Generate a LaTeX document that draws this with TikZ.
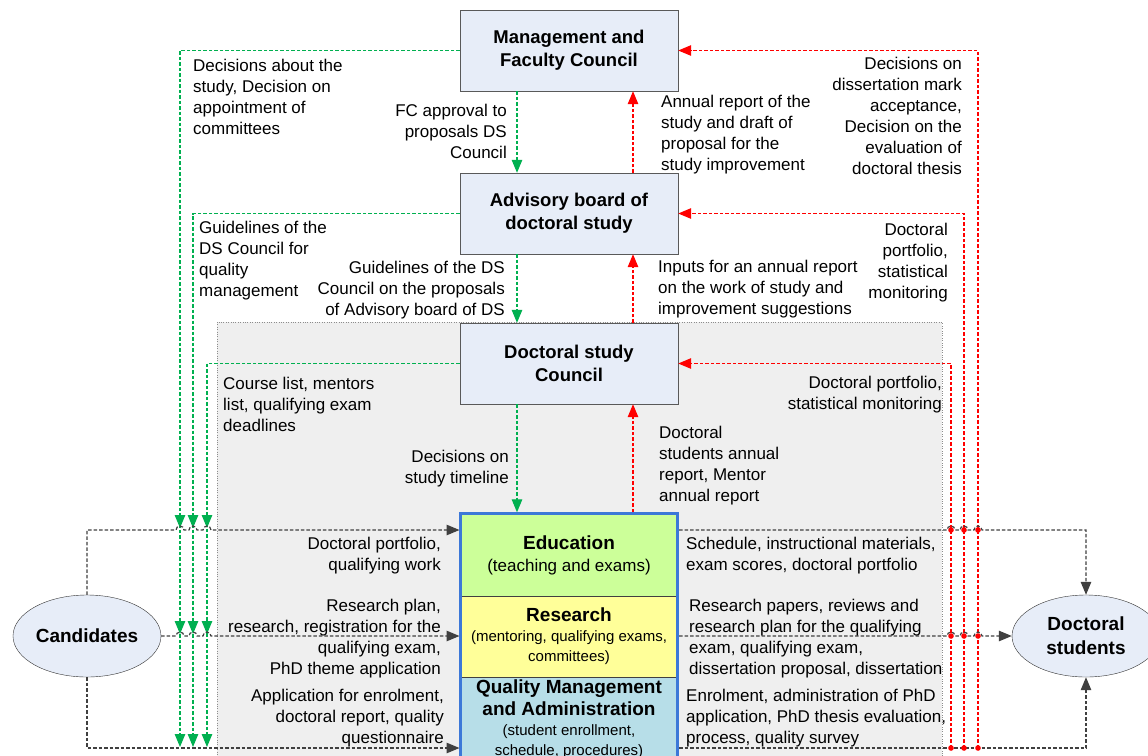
\documentclass[tikz,border=0pt]{standalone}
\usepackage{fontspec}
\setmainfont{Liberation Sans}
\usetikzlibrary{arrows.meta,shapes.geometric,calc}
\definecolor{boxfill}{HTML}{E7EDF8}
\definecolor{gGreen}{HTML}{00B050}
\definecolor{rRed}{HTML}{FF0000}
\definecolor{kGray}{HTML}{404040}
\definecolor{regfill}{HTML}{EFEFEF}
\definecolor{eduFill}{HTML}{CCFF99}
\definecolor{resFill}{HTML}{FFFF99}
\definecolor{qmaFill}{HTML}{B7DEE8}
\definecolor{stackBlue}{HTML}{3C78D8}
\begin{document}
\begin{tikzpicture}[x=1pt,y=-1pt,
  tip/.style={-{Triangle[length=13pt,width=10.5pt]}},
  gline/.style={draw=gGreen, line width=1.2pt, dash pattern=on 3.5pt off 2pt},
  rline/.style={draw=rRed, line width=1.2pt, dash pattern=on 3.5pt off 2pt},
  kline/.style={draw=kGray, line width=1.2pt, dash pattern=on 3.5pt off 2pt},
  topbox/.style={draw=black!65, fill=boxfill, minimum width=218pt, minimum height=81pt, inner sep=0pt, align=center, font=\bfseries\fontsize{18.5}{23}\selectfont},
  stackpart/.style={draw=black!75, minimum width=217pt, inner sep=0pt, align=center},
  oval/.style={ellipse, draw=black!80, fill=boxfill, minimum width=148pt, minimum height=82pt, inner sep=0pt, align=center, font=\bfseries\fontsize{19}{24}\selectfont},
  lbl/.style={inner sep=0pt, font=\fontsize{17}{21}\selectfont},
  lblL/.style={lbl, align=left, anchor=north west},
  lblR/.style={lbl, align=right, anchor=north east},
  rdot/.style={fill=rRed}
]
\path[use as bounding box] (0,0) rectangle (1148,755);

% grey region
\draw[draw=black!45, dotted, fill=regfill] (217,322) rectangle (942,780);

% top boxes
\node[topbox] (mfc) at (569,50.5) {Management and\\Faculty Council};
\node[topbox] (adv) at (569,213.5) {Advisory board of\\doctoral study};
\node[topbox] (dsc) at (569,363.5) {Doctoral study\\Council};

% central stack
\node[stackpart, fill=eduFill, minimum height=82pt, font=\fontsize{17}{22}\selectfont] (edu) at (569,555)
  {\bfseries\fontsize{19}{22}\selectfont Education\\(teaching and exams)};
\node[stackpart, fill=resFill, minimum height=81pt, font=\fontsize{15}{20}\selectfont] (res) at (569,636.5)
  {\bfseries\fontsize{19}{22}\selectfont Research\\(mentoring, qualifying exams,\\committees)};
\node[stackpart, fill=qmaFill, minimum height=84pt, font=\fontsize{15}{20}\selectfont] (qma) at (569,719)
  {\bfseries\fontsize{19}{22}\selectfont Quality Management\\[2pt]\bfseries\fontsize{19}{22}\selectfont and Administration\\(student enrollment,\\schedule, procedures)};
\draw[stackBlue, line width=3pt] (edu.north west) rectangle (qma.south east);

% ellipses
\node[oval] (cand) at (87,636) {Candidates};
\node[oval] (dst) at (1086,636) {Doctoral\\students};

% named points
\coordinate (eduL) at (459.5,530);
\coordinate (resL) at (459.5,636);
\coordinate (qmaL) at (459.5,748);
\coordinate (eduR) at (679,530);
\coordinate (resR) at (679,636);
\coordinate (qmaR) at (679,748);

\coordinate (g1a) at (180,528); \coordinate (g1b) at (180,634); \coordinate (g1c) at (180,747);
\coordinate (g2a) at (193,528); \coordinate (g2b) at (193,634); \coordinate (g2c) at (193,747);
\coordinate (g3a) at (207,528); \coordinate (g3b) at (207,634); \coordinate (g3c) at (207,747);

\coordinate (r1a) at (978,530); \coordinate (r1b) at (978,636); \coordinate (r1c) at (978,748);
\coordinate (r2a) at (964,530); \coordinate (r2b) at (964,636); \coordinate (r2c) at (964,748);
\coordinate (r3a) at (951,530); \coordinate (r3b) at (951,636); \coordinate (r3c) at (951,748);

% green connectors (left)
\draw[gline, tip] (mfc.west) -| (g1c);
\draw[gline, tip] (adv.west) -| (g2c);
\draw[gline, tip] (dsc.west) -| (g3c);
\foreach \p in {g1a,g1b,g2a,g2b,g3a,g3b}{
  \draw[gline, tip] ($(\p)+(0,-15)$) -- (\p);
}

% red connectors (right)
\draw[rline, tip] (r1c) |- (mfc.east);
\draw[rline, tip] (r2c) |- (adv.east);
\draw[rline, tip] (r3c) |- (dsc.east);

% central vertical connectors
\draw[gline, tip] ([xshift=-52pt]mfc.south) -- ([xshift=-52pt]adv.north);
\draw[gline, tip] ([xshift=-52pt]adv.south) -- ([xshift=-52pt]dsc.north);
\draw[gline, tip] ([xshift=-52pt]dsc.south) -- ([xshift=-52pt,yshift=1.5pt]edu.north);
\draw[rline, tip] ([xshift=64pt]adv.north) -- ([xshift=64pt]mfc.south);
\draw[rline, tip] ([xshift=64pt]dsc.north) -- ([xshift=64pt]adv.south);
\draw[rline, tip] ([xshift=64pt,yshift=1.5pt]edu.north) -- ([xshift=64pt]dsc.south);

% black connectors with line jumps
\draw[kline, tip] (cand.north) |- (176,530)
  arc[start angle=180,end angle=360,radius=4] -- (189,530)
  arc[start angle=180,end angle=360,radius=4] -- (203,530)
  arc[start angle=180,end angle=360,radius=4] -- (eduL);
\draw[kline, tip] (cand.east) -- (176,636)
  arc[start angle=180,end angle=360,radius=4] -- (189,636)
  arc[start angle=180,end angle=360,radius=4] -- (203,636)
  arc[start angle=180,end angle=360,radius=4] -- (resL);
\draw[kline, tip] (cand.south) |- (qmaL);
\draw[kline, tip] (eduR) -- (947,530)
  arc[start angle=180,end angle=360,radius=4] -- (960,530)
  arc[start angle=180,end angle=360,radius=4] -- (974,530)
  arc[start angle=180,end angle=360,radius=4] -| (dst.north);
\draw[kline, tip] (resR) -- (947,636)
  arc[start angle=180,end angle=360,radius=4] -- (960,636)
  arc[start angle=180,end angle=360,radius=4] -- (974,636)
  arc[start angle=180,end angle=360,radius=4] -- (dst.west);
\draw[kline, tip] (qmaR) -| (dst.south);

\foreach \p in {r1a,r1b,r1c,r2a,r2b,r2c,r3a,r3b,r3c}{
  \fill[rdot] (\p) circle (2.8);
}

% labels
\node[lblL] (l1) at (193,58.5) {Decisions about the\\study, Decision on\\appointment of\\committees};
\node[lblR] (l2) at (507,103.5) {FC approval to\\proposals DS\\Council};
\node[lblL] (l3) at (661,94.5) {Annual report of the\\study and draft of\\proposal for the\\study improvement};
\node[lblR] (l4) at (962,56.5) {Decisions on\\dissertation mark\\acceptance,\\Decision on the\\evaluation of\\doctoral thesis};
\node[lblL] (l5) at (199,220.5) {Guidelines of the\\DS Council for\\quality\\management};
\node[lblR] (l6) at (505,260.5) {Guidelines of the DS\\Council on the proposals\\of Advisory board of DS};
\node[lblL] (l7) at (658,259.5) {Inputs for an annual report\\on the work of study and\\improvement suggestions};
\node[lblR] (l8) at (948,222.5) {Doctoral\\portfolio,\\statistical\\monitoring};
\node[lblL] (l9) at (223,376.5) {Course list, mentors\\list, qualifying exam\\deadlines};
\node[lblR] (l10) at (509,450) {Decisions on\\study timeline};
\node[lblL] (l11) at (659,426) {Doctoral\\students annual\\report, Mentor\\annual report};
\node[lblR] (l12) at (942,376) {Doctoral portfolio,\\statistical monitoring};
\node[lblR] (l13) at (441,537) {Doctoral portfolio,\\qualifying work};
\node[lblR] (l14) at (441,599) {Research plan,\\research, registration for the\\qualifying exam,\\PhD theme application};
\node[lblR] (l15) at (444,688.5) {Application for enrolment,\\doctoral report, quality\\questionnaire};
\node[lblL] (l16) at (686,537) {Schedule, instructional materials,\\exam scores, doctoral portfolio};
\node[lblL] (l17) at (689,599) {Research papers, reviews and\\research plan for the qualifying\\exam, qualifying exam,\\dissertation proposal, dissertation};
\node[lblL] (l18) at (686,688.5) {Enrolment, administration of PhD\\application, PhD thesis evaluation,\\process, quality survey};
\end{tikzpicture}
\end{document}
